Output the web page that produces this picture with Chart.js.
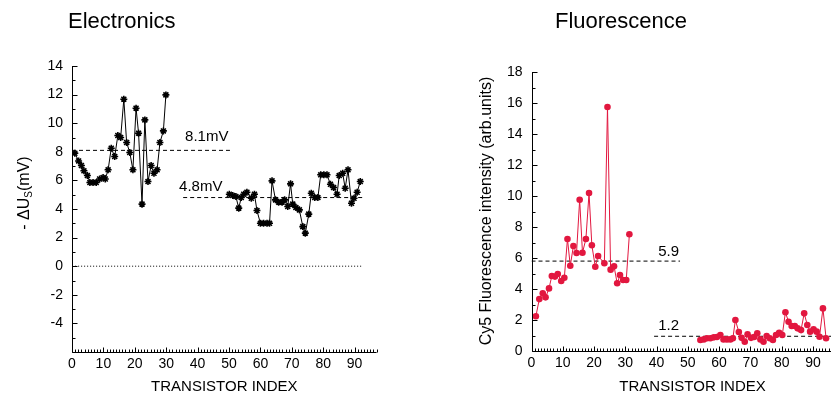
<!DOCTYPE html>
<html>
<head>
<meta charset="UTF-8">
<script src="https://cdn.jsdelivr.net/npm/chart.js"></script>
<style>
    html, body { margin: 0; padding: 0; background: #fff; }
    body { width: 831px; height: 399px; overflow: hidden; position: relative; }
    canvas { position: absolute; top: 0; }
    #elec { left: 0; }
    #fluo { left: 415px; }
</style>
</head>
<body>
<canvas id="elec" width="415" height="399"></canvas>
<canvas id="fluo" width="445" height="399"></canvas>
<script>
    // electronics panel, -dUs in mV
    const elecX1 = [0.9, 2.1, 3.0, 3.8, 4.9, 5.7, 6.7, 7.7, 8.8, 9.9, 10.6, 11.5, 12.5, 13.6, 14.6, 15.5, 16.5, 17.4, 18.4, 19.4, 20.4, 21.2, 22.3, 23.2, 24.2, 25.2, 26.1, 27.1, 28.0, 29.1, 29.9];
    const elecY1 = [7.9, 7.36, 7.04, 6.67, 6.34, 5.85, 5.85, 5.85, 6.1, 6.2, 6.1, 6.74, 8.25, 7.67, 9.14, 9.0, 11.68, 8.65, 7.95, 6.74, 11.05, 9.3, 4.34, 10.23, 5.92, 7.04, 6.5, 6.74, 8.65, 9.46, 11.98];
    const elecX2 = [50.1, 51.2, 52.2, 53.1, 53.9, 54.7, 55.7, 57.1, 58.1, 58.9, 60.0, 61.0, 62.1, 62.9, 63.7, 64.8, 65.8, 66.9, 67.7, 68.7, 69.6, 70.3, 71.3, 72.4, 73.5, 74.3, 75.4, 76.2, 77.3, 78.3, 79.2, 80.2, 81.2, 82.3, 83.3, 84.4, 85.1, 86.2, 87.0, 87.9, 89.0, 89.8, 90.8, 91.8];
    const elecY2 = [5.03, 4.94, 4.87, 4.06, 4.8, 5.03, 5.17, 4.75, 5.03, 3.89, 3.0, 3.0, 3.0, 3.0, 5.97, 4.64, 4.48, 4.48, 4.64, 4.17, 5.76, 4.34, 4.1, 3.94, 2.77, 2.31, 3.64, 5.1, 4.8, 4.8, 6.39, 6.39, 6.39, 5.73, 5.5, 5.03, 6.34, 6.5, 5.45, 6.74, 4.4, 4.75, 5.17, 5.92];
    const elecMeans = [8.1, 4.8];
    const elecMeanFrom = [0, 35.4];
    const elecMeanTo = [50.3, 92.7];
    const elecMeanLabels = ['8.1mV', '4.8mV'];
    const elecZero = [1, 92.3];

    // fluorescence panel, Cy5 intensity
    const fluoX1 = [1.4, 2.5, 3.6, 4.5, 5.6, 6.5, 7.5, 8.4, 9.5, 10.5, 11.5, 12.4, 13.4, 14.4, 15.4, 16.3, 17.4, 18.4, 19.3, 20.4, 21.3, 23.3, 24.3, 25.3, 26.4, 27.4, 28.3, 29.3, 30.3, 31.3];
    const fluoY1 = [2.24, 3.35, 3.72, 3.46, 4.04, 4.84, 4.8, 4.97, 4.52, 4.73, 7.23, 5.5, 6.77, 6.32, 9.76, 6.34, 7.23, 10.19, 6.82, 5.44, 6.13, 5.66, 15.74, 5.25, 5.46, 4.37, 4.9, 4.58, 4.58, 7.53];
    const fluoX2 = [54.0, 55.1, 56.1, 57.2, 58.3, 59.3, 60.4, 61.4, 62.5, 63.6, 64.4, 65.2, 66.3, 67.2, 68.2, 69.1, 70.2, 71.2, 72.2, 73.2, 74.2, 75.2, 76.2, 77.2, 78.2, 79.2, 80.2, 81.2, 82.2, 83.2, 84.2, 85.1, 86.2, 87.2, 88.2, 89.1, 90.2, 91.2, 92.1, 93.2, 94.2];
    const fluoY2 = [0.71, 0.75, 0.82, 0.82, 0.88, 0.9, 1.03, 0.75, 0.75, 0.75, 0.82, 2.0, 1.23, 0.85, 0.6, 1.08, 0.85, 0.9, 1.14, 0.75, 0.6, 0.97, 0.82, 0.71, 1.03, 1.18, 1.03, 2.5, 1.89, 1.61, 1.61, 1.46, 1.35, 2.43, 1.68, 1.25, 1.4, 1.25, 0.92, 2.75, 0.82];
    const fluoMeans = [5.8, 0.95];
    const fluoMeanFrom = [0, 39.2];
    const fluoMeanTo = [47.5, 103];
    const fluoMeanLabels = ['5.9', '1.2'];

    const FONT = '"Liberation Sans", Arial, sans-serif';
    const RED = '#e2173f';

    function pts(xs, ys) {
        return xs.map((x, i) => ({x: x, y: ys[i]}));
    }

    function refLine(x0, x1, y, dash) {
        return {
            data: [{x: x0, y: y}, {x: x1, y: y}],
            borderColor: '#000',
            borderWidth: 1,
            borderDash: dash,
            pointRadius: 0,
            fill: false
        };
    }

    // ticks pointing into the plot + the two axis lines
    const inwardTicks = {
        id: 'inwardTicks',
        afterDraw(chart, args, opts) {
            const ctx = chart.ctx, a = chart.chartArea;
            const xs = chart.scales.x, ys = chart.scales.y;
            ctx.save();
            ctx.strokeStyle = '#000';
            ctx.lineWidth = 1;
            ctx.beginPath();
            const L = Math.round(a.left) + 0.5, B = Math.round(a.bottom) + 0.5;
            ctx.moveTo(L, Math.round(a.top));
            ctx.lineTo(L, B);
            ctx.lineTo(a.right, B);
            for (let v = Math.ceil(xs.min); v <= xs.max; v++) {
                const p = Math.round(xs.getPixelForValue(v)) + 0.5;
                const len = v % opts.xMajor === 0 ? 5 : 3;
                ctx.moveTo(p, B);
                ctx.lineTo(p, B - len);
            }
            for (let v = Math.ceil(ys.min); v <= ys.max; v++) {
                const p = Math.round(ys.getPixelForValue(v)) + 0.5;
                const len = v % opts.yMajor === 0 ? 5 : 3;
                ctx.moveTo(L, p);
                ctx.lineTo(L + len, p);
            }
            ctx.stroke();
            ctx.restore();
        }
    };

    // titles, rotated y titles and mean labels
    const texts = {
        id: 'texts',
        afterDraw(chart, args, opts) {
            const ctx = chart.ctx;
            const xs = chart.scales.x, ys = chart.scales.y;
            ctx.save();
            ctx.fillStyle = '#000';
            ctx.textBaseline = 'alphabetic';
            ctx.textAlign = 'left';
            ctx.font = '22px ' + FONT;
            ctx.fillText(opts.title, opts.titleX, 28);

            ctx.font = '15px ' + FONT;
            opts.marks.forEach(m => {
                ctx.fillText(m.text, xs.getPixelForValue(m.x), ys.getPixelForValue(m.y) - m.dy);
            });

            // y title
            ctx.translate(opts.yTitleX, opts.yTitleY);
            ctx.rotate(-Math.PI / 2);
            ctx.textBaseline = 'middle';
            const parts = opts.yTitle;
            let total = 0;
            parts.forEach(p => {
                ctx.font = p.size + 'px ' + FONT;
                total += ctx.measureText(p.t).width;
            });
            let cx = -total / 2;
            parts.forEach(p => {
                ctx.font = p.size + 'px ' + FONT;
                ctx.fillText(p.t, cx, p.dy || 0);
                cx += ctx.measureText(p.t).width;
            });
            ctx.restore();
        }
    };

    function xAxis(max, height) {
        return {
            type: 'linear',
            min: 0,
            max: max,
            afterFit: s => { s.height = height; },
            grid: {display: false, drawTicks: false, tickLength: 0},
            border: {display: false},
            ticks: {
                stepSize: 10,
                includeBounds: false,
                padding: 4,
                color: '#000',
                font: {family: FONT, size: 14}
            },
            title: {
                display: true,
                text: 'TRANSISTOR INDEX',
                color: '#000',
                font: {family: FONT, size: 15},
                padding: {top: 0, bottom: 3}
            }
        };
    }

    function yAxis(min, max, width, pad, hideMin) {
        return {
            type: 'linear',
            min: min,
            max: max,
            afterFit: s => { s.width = width; },
            grid: {display: false, drawTicks: false, tickLength: 0},
            border: {display: false},
            ticks: {
                stepSize: 2,
                padding: pad,
                color: '#000',
                font: {family: FONT, size: 14},
                callback: v => (hideMin && v === min) ? '' : v
            }
        };
    }

    const elecSets = [
        {
            data: pts(elecX1, elecY1)
        },
        {
            data: pts(elecX2, elecY2)
        }
    ].map(d => Object.assign(d, {
        borderColor: '#000',
        borderWidth: 1,
        pointStyle: 'star',
        pointRadius: 3.5,
        pointBorderWidth: 1.6,
        pointBorderColor: '#000',
        pointBackgroundColor: '#000',
        fill: false,
        tension: 0
    }));
    elecMeans.forEach((m, i) => elecSets.push(refLine(elecMeanFrom[i], elecMeanTo[i], m, [4, 3])));
    elecSets.push(refLine(elecZero[0], elecZero[1], 0, [1, 2]));

    new Chart(document.getElementById('elec'), {
        type: 'line',
        data: {datasets: elecSets},
        options: {
            responsive: false,
            animation: false,
            layout: {padding: {left: 0, right: 38.4, top: 66, bottom: 0}},
            plugins: {
                legend: {display: false},
                tooltip: {enabled: false},
                inwardTicks: {xMajor: 10, yMajor: 2},
                texts: {
                    title: 'Electronics',
                    titleX: 68,
                    marks: [
                        {text: elecMeanLabels[0], x: 36, y: elecMeans[0], dy: 9},
                        {text: elecMeanLabels[1], x: 34.1, y: elecMeans[1], dy: 7}
                    ],
                    yTitleX: 25,
                    yTitleY: 193,
                    yTitle: [
                        {t: '- \u0394U', size: 16},
                        {t: 'S', size: 10, dy: 4},
                        {t: '(mV)', size: 16}
                    ]
                }
            },
            scales: {
                x: xAxis(97, 47),
                y: yAxis(-6, 14, 72, 9, true)
            }
        },
        plugins: [inwardTicks, texts]
    });

    const fluoSets = [
        {data: pts(fluoX1, fluoY1)},
        {data: pts(fluoX2, fluoY2)}
    ].map(d => Object.assign(d, {
        borderColor: RED,
        borderWidth: 1,
        pointStyle: 'circle',
        pointRadius: 3.3,
        pointBorderWidth: 0,
        pointBackgroundColor: RED,
        fill: false,
        tension: 0
    }));
    fluoMeans.forEach((m, i) => fluoSets.push(refLine(fluoMeanFrom[i], fluoMeanTo[i], m, [4, 3])));

    new Chart(document.getElementById('fluo'), {
        type: 'line',
        data: {datasets: fluoSets},
        options: {
            responsive: false,
            animation: false,
            layout: {padding: {left: 0, right: 4, top: 72, bottom: 0}},
            plugins: {
                legend: {display: false},
                tooltip: {enabled: false},
                inwardTicks: {xMajor: 10, yMajor: 2},
                texts: {
                    title: 'Fluorescence',
                    titleX: 140,
                    marks: [
                        {text: fluoMeanLabels[0], x: 40.5, y: fluoMeans[0], dy: 5},
                        {text: fluoMeanLabels[1], x: 40.5, y: fluoMeans[1], dy: 6}
                    ],
                    yTitleX: 72,
                    yTitleY: 211,
                    yTitle: [
                        {t: 'Cy5 Fluorescence intensity (arb.units)', size: 16}
                    ]
                }
            },
            scales: {
                x: xAxis(103, 48),
                y: yAxis(0, 18, 116.5, 9, false)
            }
        },
        plugins: [inwardTicks, texts]
    });
</script>
</body>
</html>
